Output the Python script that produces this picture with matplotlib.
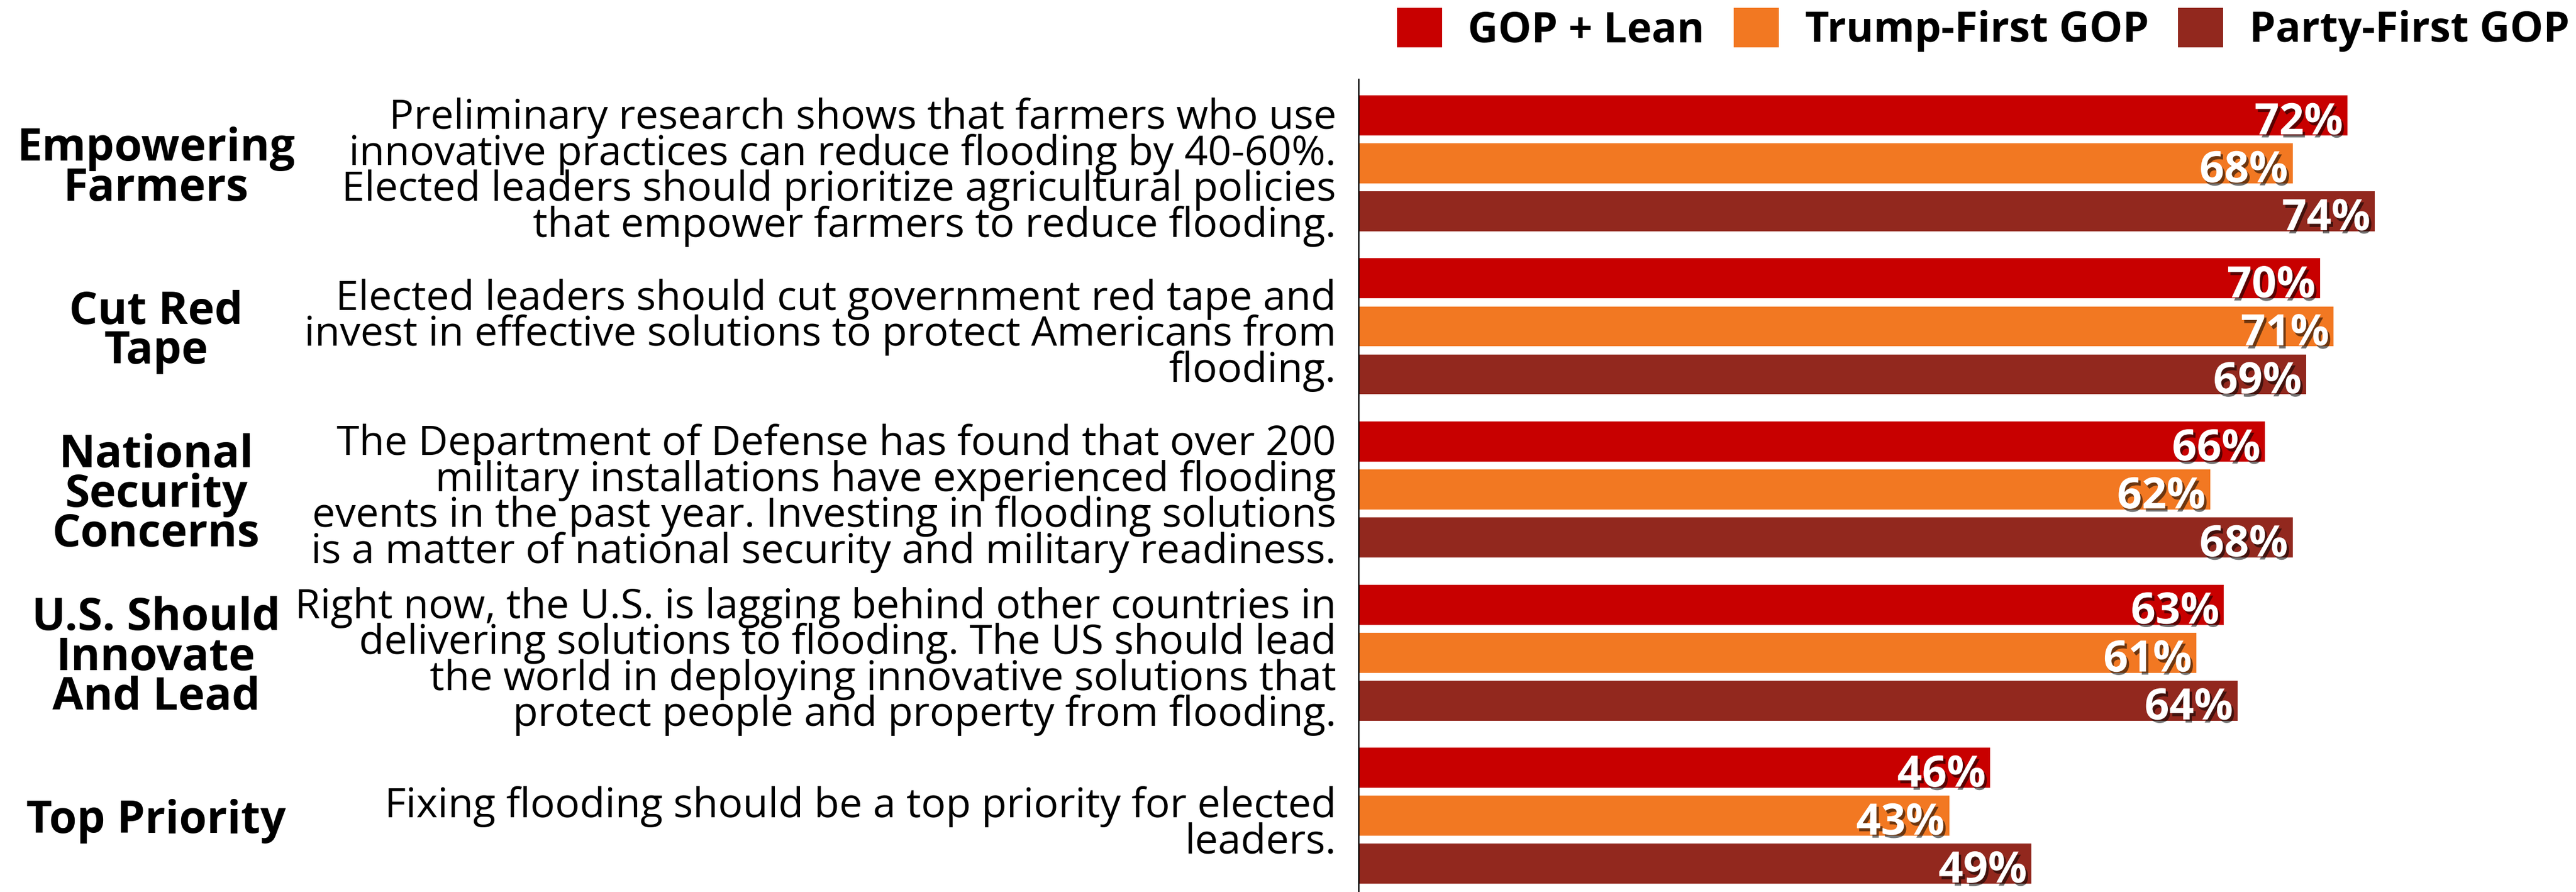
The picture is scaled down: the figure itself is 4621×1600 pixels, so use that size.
import matplotlib
matplotlib.use("Agg")
import matplotlib.pyplot as plt
import matplotlib.patheffects as pe
import matplotlib.transforms as mtransforms
from matplotlib.patches import Patch
import numpy as np

plt.rcParams["font.family"] = ["Open Sans", "DejaVu Sans"]

# --- data ---------------------------------------------------------------
categories = [
    "Empowering\nFarmers",
    "Cut Red\nTape",
    "National\nSecurity\nConcerns",
    "U.S. Should\nInnovate\nAnd Lead",
    "Top Priority",
]
statements = [
    "Preliminary research shows that farmers who use\n"
    "innovative practices can reduce flooding by 40-60%.\n"
    "Elected leaders should prioritize agricultural policies\n"
    "that empower farmers to reduce flooding.",
    "Elected leaders should cut government red tape and\n"
    "invest in effective solutions to protect Americans from\n"
    "flooding.",
    "The Department of Defense has found that over 200\n"
    "military installations have experienced flooding\n"
    "events in the past year. Investing in flooding solutions\n"
    "is a matter of national security and military readiness.",
    "Right now, the U.S. is lagging behind other countries in\n"
    "delivering solutions to flooding. The US should lead\n"
    "the world in deploying innovative solutions that\n"
    "protect people and property from flooding.",
    "Fixing flooding should be a top priority for elected\n"
    "leaders.",
]
series_names = ["GOP + Lean", "Trump-First GOP", "Party-First GOP"]
gop_lean = [72, 70, 66, 63, 46]
trump_first = [68, 71, 62, 61, 43]
party_first = [74, 69, 68, 64, 49]

colors = ["#C80000", "#F27822", "#92281E"]

# --- figure -------------------------------------------------------------
W, H, DPI = 4621, 1600, 100
fig = plt.figure(figsize=(W / DPI, H / DPI), dpi=DPI)
ax = fig.add_axes([2437 / W, 0, 1 - 2437 / W, 1 - 142 / H])

y = np.arange(len(categories))
offset = 0.294
bar_h = 0.246
shadow = [pe.withSimplePatchShadow(offset=(3, -4), shadow_rgbFace="black", alpha=0.55)]

for i, (vals, col) in enumerate(zip([gop_lean, trump_first, party_first], colors)):
    ypos = y + (i - 1) * offset
    ax.barh(ypos, vals, height=bar_h, color=col, linewidth=0)
    for yy, v in zip(ypos, vals):
        ax.annotate(f"{v}%", xy=(v, yy), xytext=(-8, -4), textcoords="offset pixels",
                    ha="right", va="center_baseline", color="white",
                    fontsize=56, fontweight="bold", path_effects=shadow)

ax.set_xlim(0, (W - 2437) / 24.64)
ax.set_ylim(4.468, -0.516)
for side in ["top", "right", "bottom"]:
    ax.spines[side].set_visible(False)
ax.spines["left"].set_linewidth(1.8)
ax.spines["left"].set_color("black")
ax.set_xticks([])
ax.set_yticks([])

# category titles and statements sit to the left of the axis
trans = mtransforms.blended_transform_factory(fig.transFigure, ax.transData)
for yy, cat, txt in zip(y, categories, statements):
    ax.annotate(cat, xy=(280 / W, yy), xycoords=trans, xytext=(0, -10),
                textcoords="offset pixels", ha="center", va="center",
                multialignment="center", fontsize=58, fontweight="bold",
                linespacing=0.86, color="black", annotation_clip=False)
    ax.annotate(txt, xy=(2397 / W, yy), xycoords=trans, xytext=(0, -16),
                textcoords="offset pixels", ha="right", va="center",
                multialignment="right", fontsize=53, linespacing=0.83,
                color="black", annotation_clip=False)

handles = [Patch(facecolor=c, edgecolor="none") for c in colors]
fig.legend(handles, series_names, loc="upper right",
           bbox_to_anchor=(4609 / W, 1 - 14 / H), ncol=3, frameon=False,
           prop={"size": 54, "weight": "bold"}, handlelength=1.08,
           handleheight=1.08, handletextpad=0.62, columnspacing=0.7,
           borderpad=0, borderaxespad=0)

fig.savefig("out.png", dpi=DPI, facecolor="white")
